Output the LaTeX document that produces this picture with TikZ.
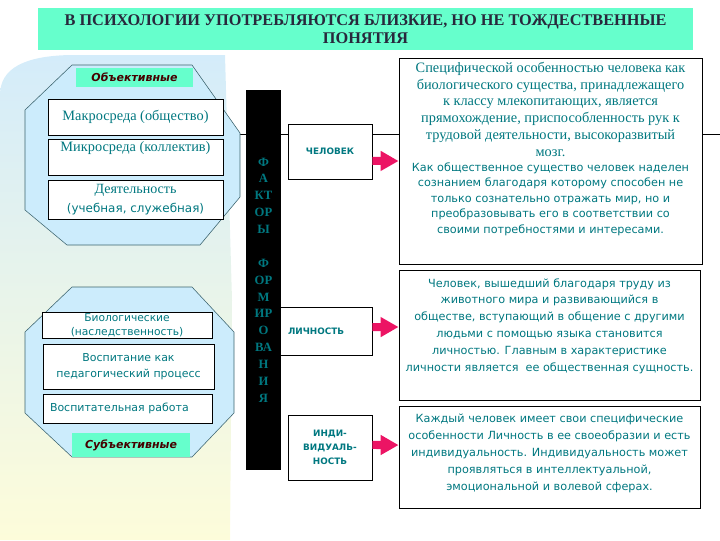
\documentclass[tikz,border=0pt]{standalone}
\usepackage{fontspec}
\setmainfont{Liberation Serif}
\setsansfont{DejaVu Sans}
\usepackage{tikz}
\usetikzlibrary{arrows.meta}
\usetikzlibrary{positioning}

\definecolor{titlegreen}{RGB}{102,255,204}
\definecolor{titletext}{RGB}{40,40,60}
\definecolor{octblue}{RGB}{204,236,252}
\definecolor{octline}{RGB}{60,100,110}
\definecolor{txtteal}{RGB}{0,120,128}
\definecolor{tagred}{RGB}{70,0,0}
\definecolor{arrowpink}{RGB}{236,20,100}
\definecolor{bgblue}{RGB}{212,236,250}
\definecolor{bgyellow}{RGB}{253,252,218}

\newlength{\upx}
\setlength{\upx}{0.025cm}

\begin{document}
\begin{tikzpicture}[x=0.025cm,y=-0.025cm,
    every node/.style={inner sep=0pt},
    titlebox/.style={fill=titlegreen,text=titletext,align=center,
      minimum width=655\upx,minimum height=42\upx,
      font=\bfseries\fontsize{11.6}{13}\selectfont},
    octagon/.style={fill=octblue,draw=octline,line width=0.4pt},
    tagbox/.style={fill=titlegreen,text=tagred,
      font=\sffamily\bfseries\itshape\fontsize{7.8}{10}\selectfont},
    whitebox/.style={draw=black,fill=white,line width=0.6pt},
    envbox/.style={whitebox,text=txtteal,align=center},
    serifbox/.style={font=\fontsize{10.2}{11}\selectfont},
    sansbox/.style={font=\sffamily\fontsize{7.6}{10}\selectfont},
    factorbar/.style={fill=black,text=txtteal,align=center,
      minimum width=35\upx,minimum height=380\upx,
      font=\bfseries\fontsize{9}{12}\selectfont},
    termbox/.style={whitebox,text=txtteal,align=center,
      font=\sffamily\bfseries\fontsize{6.3}{10}\selectfont},
    txtblock/.style={anchor=north,text=txtteal,align=center},
    pinkarrow/.style={draw=arrowpink,line width=5.7pt,
      -{Triangle[length=12.8pt,width=13.5pt]}}]

  \useasboundingbox (0,0) rectangle (720,540);

  % background
  \shade[top color=bgblue,middle color=bgblue!55!bgyellow,bottom color=bgyellow]
    (0,540) -- (0,95) .. controls (0,68) and (25,56) .. (70,55)
    -- (225,55) -- (232,300) -- (230,540) -- cycle;

  % line across
  \coordinate (lineStart) at (240,134);
  \coordinate (lineEnd) at (720,134);
  \draw[line width=0.6pt] (lineStart) -- (lineEnd);

  % title
  \node[titlebox] (title) at (365.5,29)
    {В ПСИХОЛОГИИ УПОТРЕБЛЯЮТСЯ БЛИЗКИЕ, НО НЕ ТОЖДЕСТВЕННЫЕ\\ПОНЯТИЯ};

  % octagons
  \filldraw[octagon] (72,65) -- (192,65) -- (240,133) -- (240,197)
    -- (200,245) -- (67,245) -- (25,210) -- (25,110) -- cycle;
  \filldraw[octagon] (72,287) -- (192,287) -- (234,332) -- (234,413)
    -- (192,457) -- (72,457) -- (25,413) -- (25,332) -- cycle;

  % objective factors
  \node[tagbox,minimum width=117\upx,minimum height=19\upx] (objTag) at (134.5,77.5) {Объективные};
  \node[envbox,serifbox,minimum width=175\upx,minimum height=36\upx] (macro) at (135.5,117) {Макросреда (общество)};
  \node[envbox,serifbox,minimum width=175\upx,minimum height=36\upx] (micro) at (135.5,157) {Микросреда (коллектив)\\[4pt]};
  \node[envbox,minimum width=175\upx,minimum height=39\upx,
    font=\fontsize{10}{13}\selectfont] (activity) at (135.5,199.5)
    {Деятельность\\\sffamily\fontsize{8.5}{13}\selectfont(учебная, служебная)};

  % subjective factors
  \node[envbox,sansbox,minimum width=170\upx,minimum height=26\upx] (bio) at (127,325) {Биологические\\(наследственность)};
  \node[envbox,sansbox,font=\sffamily\fontsize{7.8}{11.5}\selectfont,
    minimum width=171\upx,minimum height=45\upx] (upbring) at (128.5,366.5) {Воспитание как\\педагогический процесс};
  \node[envbox,sansbox,font=\sffamily\fontsize{7.8}{10}\selectfont,
    minimum width=169\upx,minimum height=29\upx,
    align=left,text width=155\upx,inner xsep=7\upx] (eduwork) at (127.5,408.5) {Воспитательная работа};
  \node[tagbox,minimum width=118\upx,minimum height=24\upx] (subjTag) at (131,445) {Субъективные};

  % bar
  \node[factorbar] (bar) at (263.5,280)
    {Ф\\А\\КТ\\ОР\\Ы\\~\\Ф\\ОР\\М\\ИР\\О\\ВА\\Н\\И\\Я};

  % terms
  \node[termbox,minimum width=84\upx,minimum height=55\upx] (chel) at (330,151.5) {ЧЕЛОВЕК};
  \node[termbox,align=left,text width=76\upx,inner xsep=8\upx,
    minimum height=48\upx] (lich) at (326,331) {ЛИЧНОСТЬ};
  \node[termbox,minimum width=84\upx,minimum height=65\upx] (indiv) at (330,447.5) {ИНДИ-\\ВИДУАЛЬ-\\НОСТЬ};

  % descriptions
  \node[whitebox,minimum width=303\upx,minimum height=206\upx] (humanBox) at (550.5,161) {};
  \node[txtblock,font=\fontsize{10.2}{11.9}\selectfont] (humanBio) at ([yshift=-3pt]humanBox.north)
    {Специфической особенностью человека как\\
     биологического существа, принадлежащего\\
     к классу млекопитающих, является\\
     прямохождение, приспособленность рук к\\
     трудовой деятельности, высокоразвитый\\
     мозг.};
  \node[txtblock,below=4pt of humanBio,font=\sffamily\fontsize{8}{11}\selectfont] (humanSoc)
    {Как общественное существо человек наделен\\
     сознанием благодаря которому способен не\\
     только сознательно отражать мир, но и\\
     преобразовывать его в соответствии со\\
     своими потребностями и интересами.};

  \node[whitebox,minimum width=301\upx,minimum height=130\upx] (persBox) at (549.5,335) {};
  \node[txtblock,font=\sffamily\fontsize{8}{12}\selectfont] (persTxt) at ([yshift=-6pt]persBox.north)
    {Человек, вышедший благодаря труду из\\
     животного мира и развивающийся в\\
     обществе, вступающий в общение с другими\\
     людьми с помощью языка становится\\
     личностью. Главным в характеристике\\
     личности является \ ее общественная сущность.};

  \node[whitebox,minimum width=301\upx,minimum height=102\upx] (indBox) at (549.5,457) {};
  \node[txtblock,font=\sffamily\fontsize{8}{12}\selectfont] (indTxt) at ([yshift=-6pt]indBox.north)
    {Каждый человек имеет свои специфические\\
     особенности Личность в ее своеобразии и есть\\
     индивидуальность. Индивидуальность может\\
     проявляться в интеллектуальной,\\
     эмоциональной и волевой сферах.};

  % arrows
  \draw[pinkarrow] ([yshift=-6.7pt]chel.east) -- (humanBox.west);
  \draw[pinkarrow] ([yshift=2.8pt]lich.east) -- ([yshift=5.7pt]persBox.west);
  \draw[pinkarrow] ([yshift=1.8pt]indiv.east) -- ([yshift=8.5pt]indBox.west);
\end{tikzpicture}
\end{document}
